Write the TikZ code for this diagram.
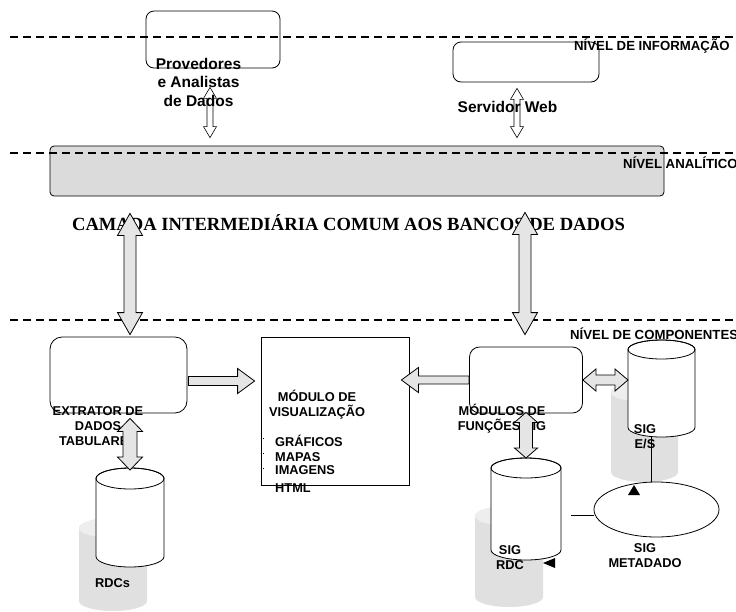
\documentclass[tikz,border=0pt]{standalone}
\usepackage{fontspec}
\setmainfont{Liberation Serif}
\setsansfont{Liberation Sans}
\usetikzlibrary{shapes,calc,positioning}

% seta larga com duas pontas: estilo, inicio, fim, haste, ponta, comprimento da ponta
\newcommand{\setadupla}[6]{%
  \draw[#1] let \p1=#2, \p2=#3,
      \n1={veclen(\x2-\x1,\y2-\y1)}, \n2={atan2(\y2-\y1,\x2-\x1)} in
    [shift={(\p1)}, rotate=\n2]
    (0pt,0pt) -- (#6pt,#5pt) -- (#6pt,#4pt) -- ({\n1-#6pt},#4pt) -- ({\n1-#6pt},#5pt)
    -- (\n1,0pt) -- ({\n1-#6pt},-#5pt) -- ({\n1-#6pt},-#4pt) -- (#6pt,-#4pt)
    -- (#6pt,-#5pt) -- cycle;}
% seta larga com uma ponta
\newcommand{\setasimples}[6]{%
  \draw[#1] let \p1=#2, \p2=#3,
      \n1={veclen(\x2-\x1,\y2-\y1)}, \n2={atan2(\y2-\y1,\x2-\x1)} in
    [shift={(\p1)}, rotate=\n2]
    (0pt,#4pt) -- ({\n1-#6pt},#4pt) -- ({\n1-#6pt},#5pt) -- (\n1,0pt)
    -- ({\n1-#6pt},-#5pt) -- ({\n1-#6pt},-#4pt) -- (0pt,-#4pt) -- cycle;}
% cilindro sobre um no: no, estilo do corpo, estilo da tampa, raio da tampa
\newcommand{\cilindro}[4]{%
  \path[#2] let \p1=(#1.north west), \p2=(#1.south east), \n1={(\x2-\x1)/2} in
    (\x1,\y1-#4pt) -- (\x1,\y2+#4pt)
    arc[start angle=180, end angle=360, x radius=\n1, y radius=#4pt]
    -- (\x2,\y1-#4pt)
    arc[start angle=0, end angle=180, x radius=\n1, y radius=#4pt] -- cycle;
  \path[#3] let \p1=(#1.north west), \p2=(#1.south east), \n1={(\x2-\x1)/2} in
    (\x1,\y1-#4pt) arc[start angle=180, end angle=540, x radius=\n1, y radius=#4pt];}

\begin{document}
\begin{tikzpicture}[x=1pt, y=-1pt,
        % Estilo para as caixas
        caixa/.style = {
            draw,
            rounded corners=8pt,
            line width=0.8pt,
            fill=white,
            inner sep=0pt
        },
        % Estilo para os textos em negrito
        rotulo/.style = {
            font=\sffamily\bfseries\fontsize{12.8}{15}\selectfont,
            align=center,
            inner sep=0pt
        },
        rotulo grande/.style = {rotulo, font=\sffamily\bfseries\fontsize{15.5}{18.5}\selectfont},
        nome nivel/.style = {rotulo, anchor=base west, font=\sffamily\bfseries\fontsize{13.2}{15}\selectfont},
        % Estilo das linhas de nivel
        nivel/.style = {dash pattern=on 8pt off 5pt, line width=1.2pt},
        % Estilo dos bancos de dados
        lugar/.style = {inner sep=0pt, outer sep=0pt},
        banco/.style = {draw, fill=white, line width=0.8pt},
        tampa/.style = {draw, line width=0.8pt},
        sombra/.style = {fill=gray!24},
        tampa sombra/.style = {fill=gray!13},
        % Estilo das setas largas
        seta larga/.style = {draw, fill=gray!20, line width=0.8pt, line join=miter},
        seta fina/.style = {draw, line width=0.6pt}
    ]
    \useasboundingbox (0,0) rectangle (736,611);

    % Lugares dos bancos e das sombras
    \node[lugar, minimum width=67pt, minimum height=100pt] (sombraES) at (644.5,432) {};
    \node[lugar, minimum width=68pt, minimum height=101pt] (sombraRDC) at (509,556.5) {};
    \node[lugar, minimum width=68pt, minimum height=93pt] (sombraRDCs) at (113,564.5) {};
    \node[lugar, minimum width=67pt, minimum height=97pt] (sigES) at (661.5,388.5) {};
    \node[lugar, minimum width=70pt, minimum height=102pt] (sigRDC) at (526,509) {};
    \node[lugar, minimum width=68pt, minimum height=99pt] (rdcs) at (130,517.5) {};

    % Sombras dos bancos
    \cilindro{sombraES}{sombra}{tampa sombra}{10}
    \cilindro{sombraRDC}{sombra}{tampa sombra}{10}
    \cilindro{sombraRDCs}{sombra}{tampa sombra}{10}

    % Caixas
    \node[caixa, minimum width=134pt, minimum height=57pt] (prov) at (213,39.5) {};
    \node[caixa, minimum width=146pt, minimum height=40pt] (web) at (526,62) {};
    \node[caixa, rounded corners=4pt, fill=gray!28, minimum width=614pt, minimum height=50pt] (analitico) at (357,171) {};
    \node[caixa, rounded corners=12pt, minimum width=137pt, minimum height=76pt] (extrator) at (118.5,375) {};
    \node[draw, line width=0.8pt, minimum width=148pt, minimum height=148pt, inner sep=0pt] (visual) at (335,411) {};
    \node[caixa, rounded corners=10pt, minimum width=113pt, minimum height=66pt] (modsig) at (526,380) {};

    % Bancos de dados
    \cilindro{sigES}{banco}{tampa}{9.5}
    \cilindro{sigRDC}{banco}{tampa}{10}
    \cilindro{rdcs}{banco}{tampa}{10.5}
    \node[draw, ellipse, line width=0.8pt, minimum width=125pt, minimum height=55pt, inner sep=0pt] (meta) at (656.5,509.5) {};

    % Linhas de nivel
    \draw[nivel] (10,37) -- (736,37);
    \draw[nivel] (10,153) -- (736,153);
    \draw[nivel] (10,320) -- (736,320);

    % Textos
    \node[nome nivel] (nivinfo) at (574,50) {NÍVEL DE INFORMAÇÃO};
    \node[nome nivel] (nivanal) at (623,168) {NÍVEL ANALÍTICO};
    \node[nome nivel] (nivcomp) at (570,339) {NÍVEL DE COMPONENTES};
    \node[font=\rmfamily\bfseries\fontsize{18.6}{22}\selectfont, anchor=base, inner sep=0pt] (camada) at (348.5,230)
        {CAMADA INTERMEDIÁRIA COMUM AOS BANCOS DE DADOS};
    \node[rotulo grande] (provtxt) at (198.5,82) {Provedores\\e Analistas\\de Dados};
    \node[rotulo grande, anchor=base] (webtxt) at (507.5,112) {Servidor Web};
    \node[rotulo] (extxt) at (98,426) {EXTRATOR DE\\DADOS\\TABULARES};
    \node[rotulo] (vistxt) at (317,405) {MÓDULO DE\\VISUALIZAÇÃO};
    \node[rotulo, anchor=base west] (graf) at (275,446) {GRÁFICOS};
    \node[rotulo, anchor=base west] (mapas) at (275,461.5) {MAPAS};
    \node[rotulo, anchor=base west] (imag) at (275,474) {IMAGENS};
    \node[rotulo, anchor=base west] (html) at (275,492) {HTML};
    \node[rotulo] (modtxt) at (502,419) {MÓDULOS DE\\FUNÇÕES SIG};
    \node[rotulo] (estxt) at (645,437) {SIG\\E/S};
    \node[rotulo] (rdctxt) at (510,558) {SIG\\RDC};
    \node[rotulo] (metatxt) at (645,555.5) {SIG\\METADADO};
    \node[rotulo, anchor=base] (rdcstxt) at (112.5,587) {RDCs};

    % Marcas da lista
    \foreach \yy in {438,453,468}
        \draw[dotted, line width=0.6pt] (visual.west |- 0,\yy) -- ++(5,0);

    % Ligacoes do metadado
    \draw[line width=0.8pt] ([xshift=-10pt]sigES.south) -- ([xshift=-10pt]sigES.south |- meta.north);
    \coordinate (fimmeta) at (571,515);
    \draw[line width=0.8pt] ([yshift=-5.5pt]meta.west) -- (fimmeta);
    \coordinate (pontaES) at (634,485);
    \fill (pontaES) -- ++(-6,10) -- ++(12,0) -- cycle;
    \coordinate (pontaRDC) at (543,563);
    \fill (pontaRDC) -- ++(12,-5) -- ++(0,10) -- cycle;

    % Setas
    \setadupla{seta fina}{($(prov.south)+(-3,19)$)}{($(prov.south |- analitico.north)+(-3,-8)$)}{3}{6.5}{11}
    \setadupla{seta fina}{($(web.south)+(-9,6)$)}{($(web.south |- analitico.north)+(-9,-8)$)}{3}{6.5}{11}
    \setadupla{seta larga}{($(extrator.north |- analitico.south)+(11.5,17)$)}{($(extrator.north)+(11.5,-2)$)}{6}{12.5}{22}
    \setadupla{seta larga}{($(modsig.north |- analitico.south)+(-1,16)$)}{($(modsig.north)+(-1,-12)$)}{6}{12.5}{22}
    \setasimples{seta larga}{($(extrator.east)+(1,6)$)}{($(extrator.east -| visual.west)+(-6,6)$)}{4.5}{12.5}{17}
    \setasimples{seta larga}{(modsig.west)}{($(modsig.west -| visual.east)+(-8,0)$)}{4}{12.5}{17}
    \setadupla{seta larga}{(modsig.east)}{(modsig.east -| sigES.west)}{5}{11}{13}
    \setadupla{seta larga}{($(extrator.south)+(11.5,5)$)}{($(rdcs.north)+(0,2)$)}{7}{12.5}{13}
    \setadupla{seta larga}{($(modsig.south)+(0,-1)$)}{(sigRDC.north)}{6.5}{11.5}{10}
\end{tikzpicture}
\end{document}
